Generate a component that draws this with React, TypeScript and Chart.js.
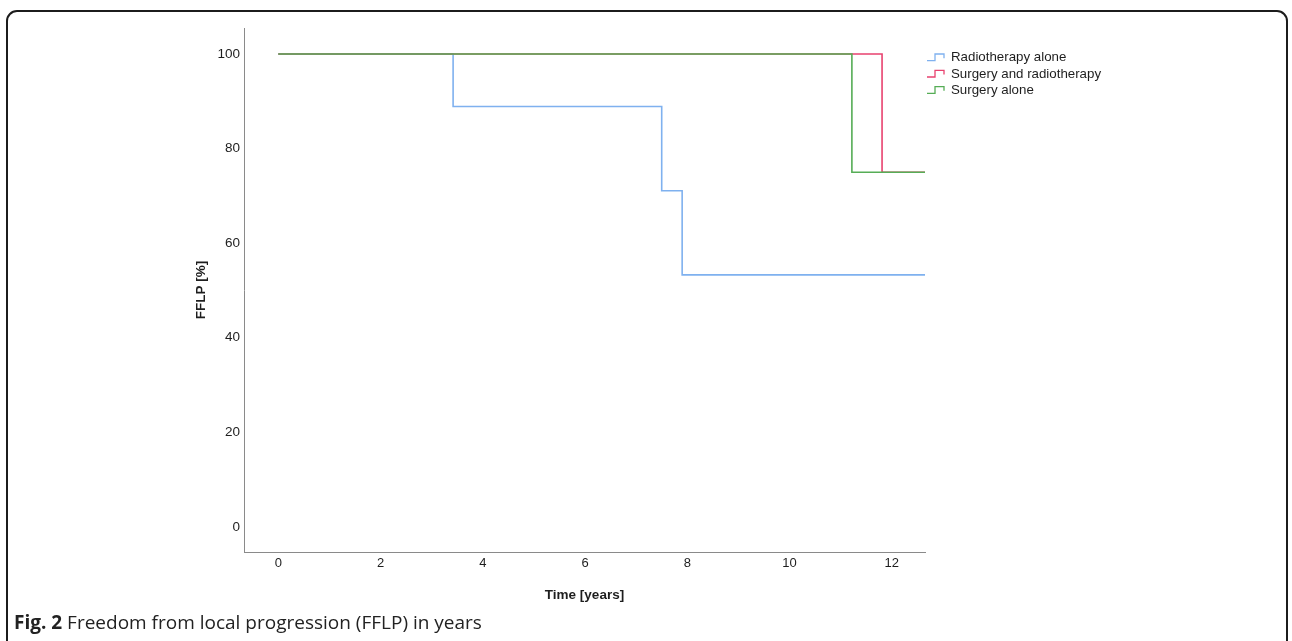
import React, { useEffect, useRef } from "react";
import { Chart, registerables } from "chart.js";

Chart.register(...registerables);

// ---- data ----
const seriesNames = ["Radiotherapy alone", "Surgery and radiotherapy", "Surgery alone"];
const seriesColors = ["#7fb1ef", "#e8426f", "#56ad56"];
const radioTimes = [0, 3.42, 7.5, 7.9, 12.65];
const radioValues = [100, 88.9, 71.1, 53.3, 53.3];
const surgRadioTimes = [0, 11.81, 12.65];
const surgRadioValues = [100, 75, 75];
const surgTimes = [0, 11.22, 12.65];
const surgValues = [100, 75, 75];
const xTicks = [0, 2, 4, 6, 8, 10, 12];
const yTicks = [0, 20, 40, 60, 80, 100];

const toPoints = (xs: number[], ys: number[]) => xs.map((x, i) => ({ x, y: ys[i] }));

const legendPlugin = {
  id: "kmLegend",
  afterDraw(chart: any) {
    const { ctx, chartArea } = chart;
    ctx.save();
    chart.data.datasets.forEach((ds: any, i: number) => {
      const x0 = chartArea.right + 2;
      const cy = chartArea.top + 29.7 + i * 16.3;
      ctx.strokeStyle = ds.borderColor;
      ctx.lineWidth = 1.3;
      ctx.beginPath();
      ctx.moveTo(x0, cy + 3);
      ctx.lineTo(x0 + 8, cy + 3);
      ctx.lineTo(x0 + 8, cy - 3.7);
      ctx.lineTo(x0 + 17, cy - 3.7);
      ctx.lineTo(x0 + 17, cy + 0.5);
      ctx.stroke();
      ctx.fillStyle = "#1e1e1e";
      ctx.font = "13.3px 'Liberation Sans', Arial, sans-serif";
      ctx.textBaseline = "middle";
      ctx.textAlign = "left";
      ctx.fillText(ds.label, x0 + 24, cy);
    });
    ctx.restore();
  },
};

export default function App() {
  const ref = useRef<HTMLCanvasElement | null>(null);
  useEffect(() => {
    if (!ref.current) return;
    const lists = [
      toPoints(radioTimes, radioValues),
      toPoints(surgRadioTimes, surgRadioValues),
      toPoints(surgTimes, surgValues),
    ];
    const orders = [2, 1, 0];
    const chart = new Chart(ref.current, {
      type: "line",
      data: {
        datasets: lists.map((data, i) => ({
          label: seriesNames[i],
          data,
          borderColor: seriesColors[i],
          backgroundColor: seriesColors[i],
          borderWidth: 1.6,
          stepped: "before" as const,
          pointRadius: 0,
          fill: false,
          order: orders[i],
        })),
      },
      options: {
        animation: false,
        responsive: false,
        devicePixelRatio: 1,
        layout: { padding: { left: 190, right: 367, top: 28, bottom: 0 } },
        plugins: { legend: { display: false }, tooltip: { enabled: false } },
        scales: {
          x: {
            type: "linear",
            min: -0.67,
            max: 12.65,
            afterBuildTicks: (s: any) => {
              s.ticks = xTicks.map((v) => ({ value: v }));
            },
            afterFit: (s: any) => {
              s.height = 58;
            },
            grid: { color: "rgba(0,0,0,0)", drawTicks: false },
            border: { color: "#8a8a8a", width: 1 },
            ticks: {
              padding: 4,
              color: "#1e1e1e",
              font: { family: "'Liberation Sans', Arial, sans-serif", size: 13 },
              callback: (v: any) => String(v),
            },
            title: {
              display: true,
              text: "Time [years]",
              color: "#1e1e1e",
              font: { family: "'Liberation Sans', Arial, sans-serif", size: 13.5, weight: "bold" },
              padding: { top: 0, bottom: 7 },
            },
          },
          y: {
            type: "linear",
            min: -5.3,
            max: 105.5,
            afterBuildTicks: (s: any) => {
              s.ticks = yTicks.map((v) => ({ value: v }));
            },
            afterFit: (s: any) => {
              s.width = 54;
            },
            grid: { color: "rgba(0,0,0,0)", drawTicks: false },
            border: { color: "#8a8a8a", width: 1 },
            ticks: {
              padding: 4,
              color: "#1e1e1e",
              font: { family: "'Liberation Sans', Arial, sans-serif", size: 13.5 },
              callback: (v: any) => String(v),
            },
            title: {
              display: true,
              text: "FFLP [%]",
              color: "#1e1e1e",
              font: { family: "'Liberation Sans', Arial, sans-serif", size: 13.5, weight: "bold" },
              padding: { top: 3, bottom: 0 },
            },
          },
        },
      },
      plugins: [legendPlugin],
    });
    return () => chart.destroy();
  }, []);

  return (
    <div style={{ position: "absolute", left: 0, top: 0, width: 1292, height: 641, overflow: "hidden", background: "#fff" }}>
      <div
        style={{
          position: "absolute",
          left: 6,
          top: 10,
          width: 1282,
          height: 642,
          border: "2px solid #1c1c1c",
          borderRadius: 11,
          boxSizing: "border-box",
        }}
      />
      <canvas
        ref={ref}
        width={1292}
        height={610}
        style={{ position: "absolute", left: 0, top: 0, width: 1292, height: 610 }}
      />
      <div
        style={{
          position: "absolute",
          left: 14,
          top: 612,
          fontFamily: "'Open Sans', sans-serif",
          fontSize: 19,
          lineHeight: "20px",
          color: "#222",
          whiteSpace: "nowrap",
        }}
      >
        <b>Fig. 2</b> Freedom from local progression (FFLP) in years
      </div>
    </div>
  );
}
